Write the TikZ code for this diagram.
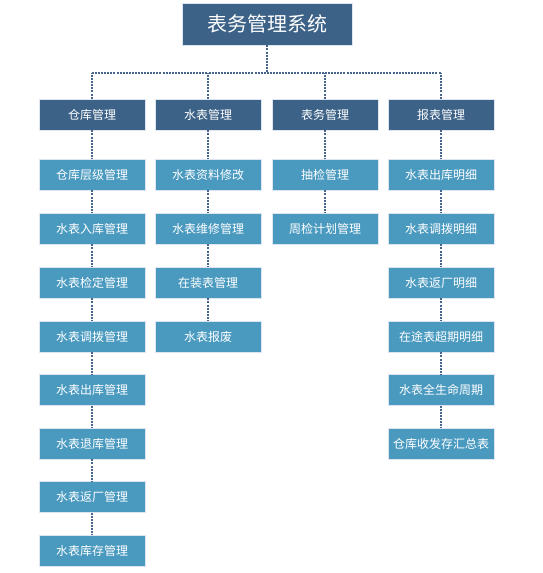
\documentclass[tikz,border=0pt]{standalone}
\usepackage{fontspec}
\setmainfont{Noto Sans CJK SC}
\usepackage{xcolor}
\usetikzlibrary{shapes,arrows}
\definecolor{topblue}{RGB}{60,98,135}
\definecolor{subblue}{RGB}{74,154,192}
\definecolor{edgeblue}{RGB}{221,230,240}
\definecolor{linkblue}{RGB}{70,100,140}
\begin{document}
\begin{tikzpicture}[x=0.75pt,y=-0.75pt]
\tikzstyle{every node}=[font=\fontsize{9pt}{11pt}\selectfont,text=white,inner sep=0pt]
\tikzstyle{titlebox}=[draw=edgeblue,line width=0.6pt,fill=topblue,minimum width=127.5pt,minimum height=31.5pt,font=\fontsize{15pt}{18pt}\selectfont]
\tikzstyle{groupbox}=[draw=edgeblue,line width=0.6pt,fill=topblue,minimum width=79.5pt,minimum height=23.25pt]
\tikzstyle{itembox}=[draw=edgeblue,line width=0.6pt,fill=subblue,minimum width=79.5pt,minimum height=23.25pt]
\tikzstyle{link}=[draw=linkblue,line width=1.1pt,dash pattern=on 1.5pt off 0.8pt]
\useasboundingbox (0,0) rectangle (542,573);
% title
\node [titlebox] (sys) at (267,24) {表务管理系统};
% groups
\node [groupbox] (ck) at (92,114.5) {仓库管理};
\node [groupbox] (sb) at (208,114.5) {水表管理};
\node [groupbox] (bw) at (325,114.5) {表务管理};
\node [groupbox] (bb) at (441,114.5) {报表管理};
\coordinate (bus) at (267,73);
\coordinate (busl) at (92,73);
\coordinate (busr) at (441,73);
% column 1
\node [itembox] (ck1) at (92,174.5) {仓库层级管理};
\node [itembox] (ck2) at (92,228.5) {水表入库管理};
\node [itembox] (ck3) at (92,282.5) {水表检定管理};
\node [itembox] (ck4) at (92,336.5) {水表调拨管理};
\node [itembox] (ck5) at (92,390) {水表出库管理};
\node [itembox] (ck6) at (92,443.5) {水表退库管理};
\node [itembox] (ck7) at (92,497) {水表返厂管理};
\node [itembox] (ck8) at (92,551) {水表库存管理};
% column 2
\node [itembox] (sb1) at (208,174.5) {水表资料修改};
\node [itembox] (sb2) at (208,228.5) {水表维修管理};
\node [itembox] (sb3) at (208,282.5) {在装表管理};
\node [itembox] (sb4) at (208,336.5) {水表报废};
% column 3
\node [itembox] (bw1) at (325,174.5) {抽检管理};
\node [itembox] (bw2) at (325,228.5) {周检计划管理};
% column 4
\node [itembox] (bb1) at (441,174.5) {水表出库明细};
\node [itembox] (bb2) at (441,228.5) {水表调拨明细};
\node [itembox] (bb3) at (441,282.5) {水表返厂明细};
\node [itembox] (bb4) at (441,336.5) {在途表超期明细};
\node [itembox] (bb5) at (441,390) {水表全生命周期};
\node [itembox] (bb6) at (441,443.5) {仓库收发存汇总表};
% links
\draw [link] (sys.south) -- (bus);
\draw [link] (busl) -- (busr);
\draw [link] (ck.north) -- (ck.north |- bus);
\draw [link] (sb.north) -- (sb.north |- bus);
\draw [link] (bw.north) -- (bw.north |- bus);
\draw [link] (bb.north) -- (bb.north |- bus);
\draw [link] (ck.south) -- (ck1.north);
\draw [link] (ck1.south) -- (ck2.north);
\draw [link] (ck2.south) -- (ck3.north);
\draw [link] (ck3.south) -- (ck4.north);
\draw [link] (ck4.south) -- (ck5.north);
\draw [link] (ck5.south) -- (ck6.north);
\draw [link] (ck6.south) -- (ck7.north);
\draw [link] (ck7.south) -- (ck8.north);
\draw [link] (sb.south) -- (sb1.north);
\draw [link] (sb1.south) -- (sb2.north);
\draw [link] (sb2.south) -- (sb3.north);
\draw [link] (sb3.south) -- (sb4.north);
\draw [link] (bw.south) -- (bw1.north);
\draw [link] (bw1.south) -- (bw2.north);
\draw [link] (bb.south) -- (bb1.north);
\draw [link] (bb1.south) -- (bb2.north);
\draw [link] (bb2.south) -- (bb3.north);
\draw [link] (bb3.south) -- (bb4.north);
\draw [link] (bb4.south) -- (bb5.north);
\draw [link] (bb5.south) -- (bb6.north);
\end{tikzpicture}
\end{document}
